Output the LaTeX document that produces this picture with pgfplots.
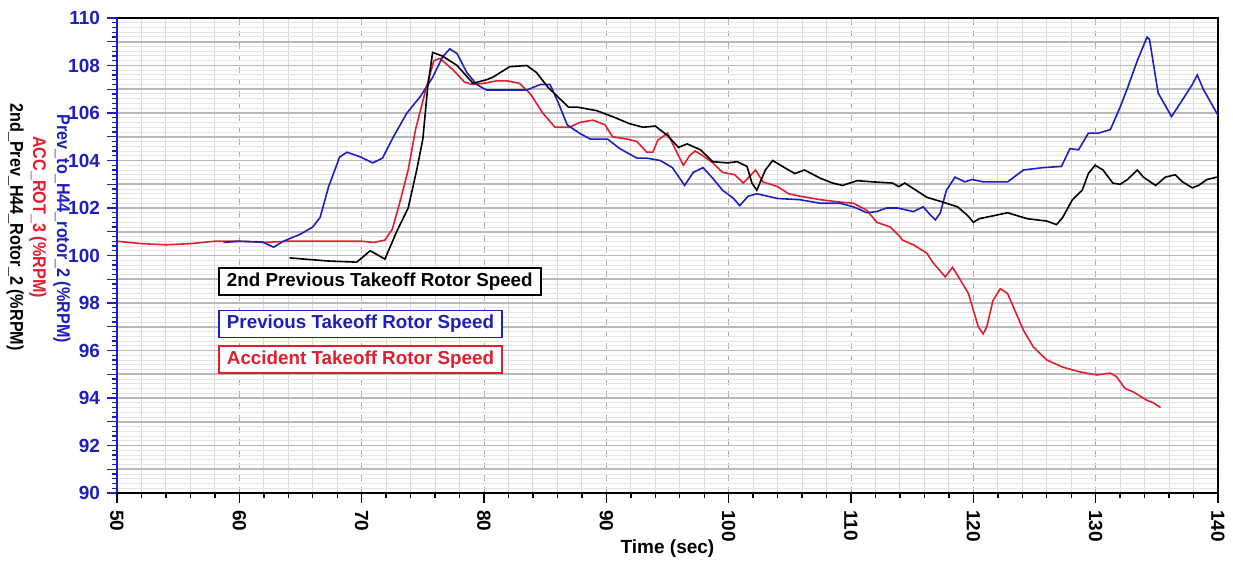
\documentclass[border=0pt]{standalone}
\usepackage{pgfplots}
\pgfplotsset{compat=1.18}
\usepackage{fontspec}
\setmainfont{Liberation Sans}
\definecolor{rpmblue}{RGB}{30,30,190}
\definecolor{rpmred}{RGB}{225,30,45}

\begin{document}
\begin{tikzpicture}
\begin{axis}[
    scale only axis,
    width=550.5pt, height=237.5pt,
    xmin=50, xmax=140, ymin=90, ymax=110,
    xtick={50,60,...,140}, minor x tick num=4,
    ytick={90,91,...,110},
    yticklabels={90,,92,,94,,96,,98,,100,,102,,104,,106,,108,,110},
    minor y tick num=4,
    grid=both,
    major x grid style={gray!70, dashed, line width=0.5pt},
    minor x grid style={gray!30, line width=0.5pt},
    major y grid style={gray!55, line width=0.9pt},
    minor y grid style={gray!20, line width=0.5pt},
    tick align=outside,
    xtick pos=bottom, ytick pos=left,
    major tick length=5pt, minor tick length=2.5pt,
    x tick style={black, line width=0.7pt},
    y tick style={rpmblue, line width=0.6pt},
    /pgf/number format/assume math mode=true,
    ticklabel style={font=\fontsize{9.5}{11}\selectfont\bfseries},
    yticklabel style={rpmblue},
    xticklabel style={rotate=-90, anchor=west},
    xlabel={Time (sec)},
    xlabel style={font=\fontsize{9.5}{11}\selectfont\bfseries,
        at={(axis description cs:0.5,0)}, anchor=center, yshift=-28pt},
    axis line style={black, line width=0.8pt},
    clip mode=individual,
]
% Accident takeoff
\addplot[rpmred, line width=0.8pt] coordinates {
(50,100.6) (51,100.55) (52,100.5) (54,100.45) (56,100.5) (58,100.6) (60,100.6)
(62,100.55) (64,100.6) (66,100.6) (68,100.6) (70,100.6) (71,100.55) (71.9,100.65)
(72.5,101.1) (73.1,102.2) (73.8,103.6) (74.4,105.3) (75.3,107.1) (75.9,108.2)
(76.4,108.3) (77.5,107.8) (78.4,107.3) (79.1,107.2) (80.0,107.25) (81.0,107.35)
(81.9,107.35) (82.9,107.25) (83.8,106.8) (84.8,106.0) (85.8,105.4) (87.0,105.4)
(87.8,105.6) (88.9,105.7) (89.9,105.5) (90.5,105.0) (91.7,104.9) (92.5,104.8)
(93.3,104.35) (93.8,104.35) (94.2,104.85) (95.0,105.15) (95.8,104.3) (96.3,103.8)
(96.8,104.2) (97.25,104.4) (97.9,104.2) (98.7,103.9) (99.5,103.5) (100.5,103.4)
(101.2,103.05) (102.2,103.6) (102.8,103.1) (104.0,102.9) (104.9,102.6) (105.8,102.5)
(107.5,102.35) (109.1,102.25) (110.2,102.2) (111.3,101.9) (112.1,101.4) (113.2,101.2)
(114.0,100.8) (114.2,100.65) (115.1,100.45) (116.2,100.1) (116.7,99.7) (117.7,99.1)
(118.3,99.5) (118.9,99.0) (119.6,98.4) (120.0,97.7) (120.4,97.0) (120.8,96.7)
(121.1,97.0) (121.6,98.1) (122.2,98.6) (122.8,98.4) (123.3,97.8) (124.1,96.85)
(124.9,96.15) (126.0,95.6) (127.3,95.3) (128.7,95.1) (130.1,94.97) (131.2,95.05)
(131.7,94.9) (132.4,94.4) (133.1,94.25) (134.2,93.9) (134.7,93.8) (135.3,93.6)
};
% Previous takeoff
\addplot[rpmblue, line width=0.8pt] coordinates {
(58.7,100.55) (60,100.6) (61.9,100.57) (62.8,100.35) (63.6,100.6) (65,100.9)
(66.0,101.2) (66.6,101.6) (67.3,102.9) (68.2,104.15) (68.8,104.35) (69.9,104.15)
(70.9,103.9) (71.7,104.1) (72.6,105.0) (73.7,106.0) (74.8,106.7) (75.8,107.5)
(76.6,108.35) (77.2,108.7) (77.8,108.5) (78.6,107.7) (79.4,107.2) (80.2,106.97)
(83.5,106.97) (84.6,107.2) (85.4,107.2) (86.1,106.4) (86.8,105.5) (87.8,105.15)
(88.7,104.9) (90.1,104.9) (91.1,104.5) (92.5,104.1) (93.3,104.1) (94.4,104.0)
(95.4,103.7) (96.4,102.95) (97.1,103.5) (97.9,103.7) (98.7,103.25) (99.5,102.75)
(100.4,102.4) (100.9,102.1) (101.6,102.5) (102.3,102.6) (104.0,102.4) (105.8,102.35)
(107.5,102.2) (109.1,102.2) (110.2,102.05) (111.3,101.8) (112.1,101.85) (112.9,102.0)
(113.8,102.0) (115.1,101.85) (115.9,102.05) (116.5,101.7) (116.9,101.5) (117.3,101.8)
(117.8,102.75) (118.5,103.3) (119.3,103.1) (119.9,103.2) (120.8,103.1) (122.8,103.1)
(124.1,103.6) (125.7,103.7) (127.2,103.75) (127.9,104.5) (128.6,104.45) (129.4,105.15)
(130.2,105.15) (131.2,105.3) (132.0,106.25) (132.6,107.05) (133.4,108.2) (134.2,109.2)
(134.4,109.1) (135.1,106.85) (136.2,105.85) (136.9,106.4) (137.9,107.2) (138.3,107.6)
(138.8,107.0) (140.0,105.9)
};
% 2nd previous takeoff
\addplot[black, line width=0.8pt] coordinates {
(64.1,99.9) (67.2,99.77) (69.6,99.72) (70.7,100.2) (71.9,99.85) (72.9,101.05)
(73.8,102.0) (74.5,103.6) (75.0,104.9) (75.4,107.1) (75.8,108.55) (76.6,108.4)
(77.8,108.0) (79.1,107.25) (80.2,107.4) (80.7,107.5) (82.1,107.95) (83.5,108.0)
(84.3,107.7) (85.2,107.1) (86.0,106.7) (86.9,106.25) (87.6,106.25) (89.2,106.1)
(90.5,105.85) (91.9,105.55) (93.0,105.4) (94.0,105.45) (95.0,105.05) (95.9,104.55)
(96.6,104.7) (97.7,104.45) (98.7,103.95) (99.9,103.9) (100.7,103.95) (101.5,103.75)
(101.9,103.05) (102.3,102.75) (103.0,103.6) (103.6,104.0) (104.4,103.75) (105.4,103.45)
(106.2,103.6) (107.5,103.25) (108.5,103.05) (109.3,102.95) (110.5,103.15) (111.8,103.1)
(113.4,103.05) (113.9,102.9) (114.4,103.05) (116.2,102.45) (117.5,102.25) (118.7,102.05)
(119.5,101.7) (120.0,101.4) (120.5,101.55) (122.8,101.8) (124.4,101.55) (126.0,101.45)
(126.8,101.3) (127.3,101.6) (128.1,102.35) (128.9,102.75) (129.4,103.45) (129.95,103.8)
(130.6,103.6) (131.4,103.05) (132.0,103.0) (132.6,103.2) (133.4,103.6) (133.9,103.3)
(134.9,102.95) (135.7,103.3) (136.5,103.4) (137.1,103.1) (137.9,102.85) (138.4,102.95)
(139.1,103.2) (139.9,103.3)
};
% blue left axis line
\draw[rpmblue, line width=1pt] (rel axis cs:0,0) -- (rel axis cs:0,1);
% boxed series names
\tikzset{namebox/.style={fill=white, line width=0.9pt, anchor=west, inner xsep=4pt,
    inner ysep=0pt, minimum height=13.5pt, font=\fontsize{9.4}{11}\selectfont\bfseries}}
\node[namebox, draw=black, text=black] at (axis cs:58.26,98.9) {2nd Previous Takeoff Rotor Speed};
\node[namebox, draw=rpmblue, text=rpmblue] at (axis cs:58.26,97.12) {Previous Takeoff Rotor Speed};
\node[namebox, draw=rpmred, text=rpmred] at (axis cs:58.26,95.62) {Accident Takeoff Rotor Speed};
% axis titles
\tikzset{ytitle/.style={rotate=-90, anchor=center, inner sep=0pt,
    font=\fontsize{9.2}{11}\selectfont\bfseries}}
\node[ytitle, text=rpmblue] at (axis description cs:-0.05,0.556)
    {\scalebox{0.88}[1]{Prev\_to\_H44\_rotor\_2 (\%RPM)}};
\node[ytitle, text=rpmred] at (axis description cs:-0.0718,0.581)
    {\scalebox{0.88}[1]{ACC\_ROT\_3 (\%RPM)}};
\node[ytitle, text=black] at (axis description cs:-0.0926,0.56)
    {\scalebox{0.88}[1]{2nd\_Prev\_H44\_Rotor\_2 (\%RPM)}};
\end{axis}
\pgfresetboundingbox
\path ([shift={(-58.5pt,-35pt)}]current axis.south west)
    rectangle ([shift={(7.5pt,9pt)}]current axis.north east);
\end{tikzpicture}
\end{document}
